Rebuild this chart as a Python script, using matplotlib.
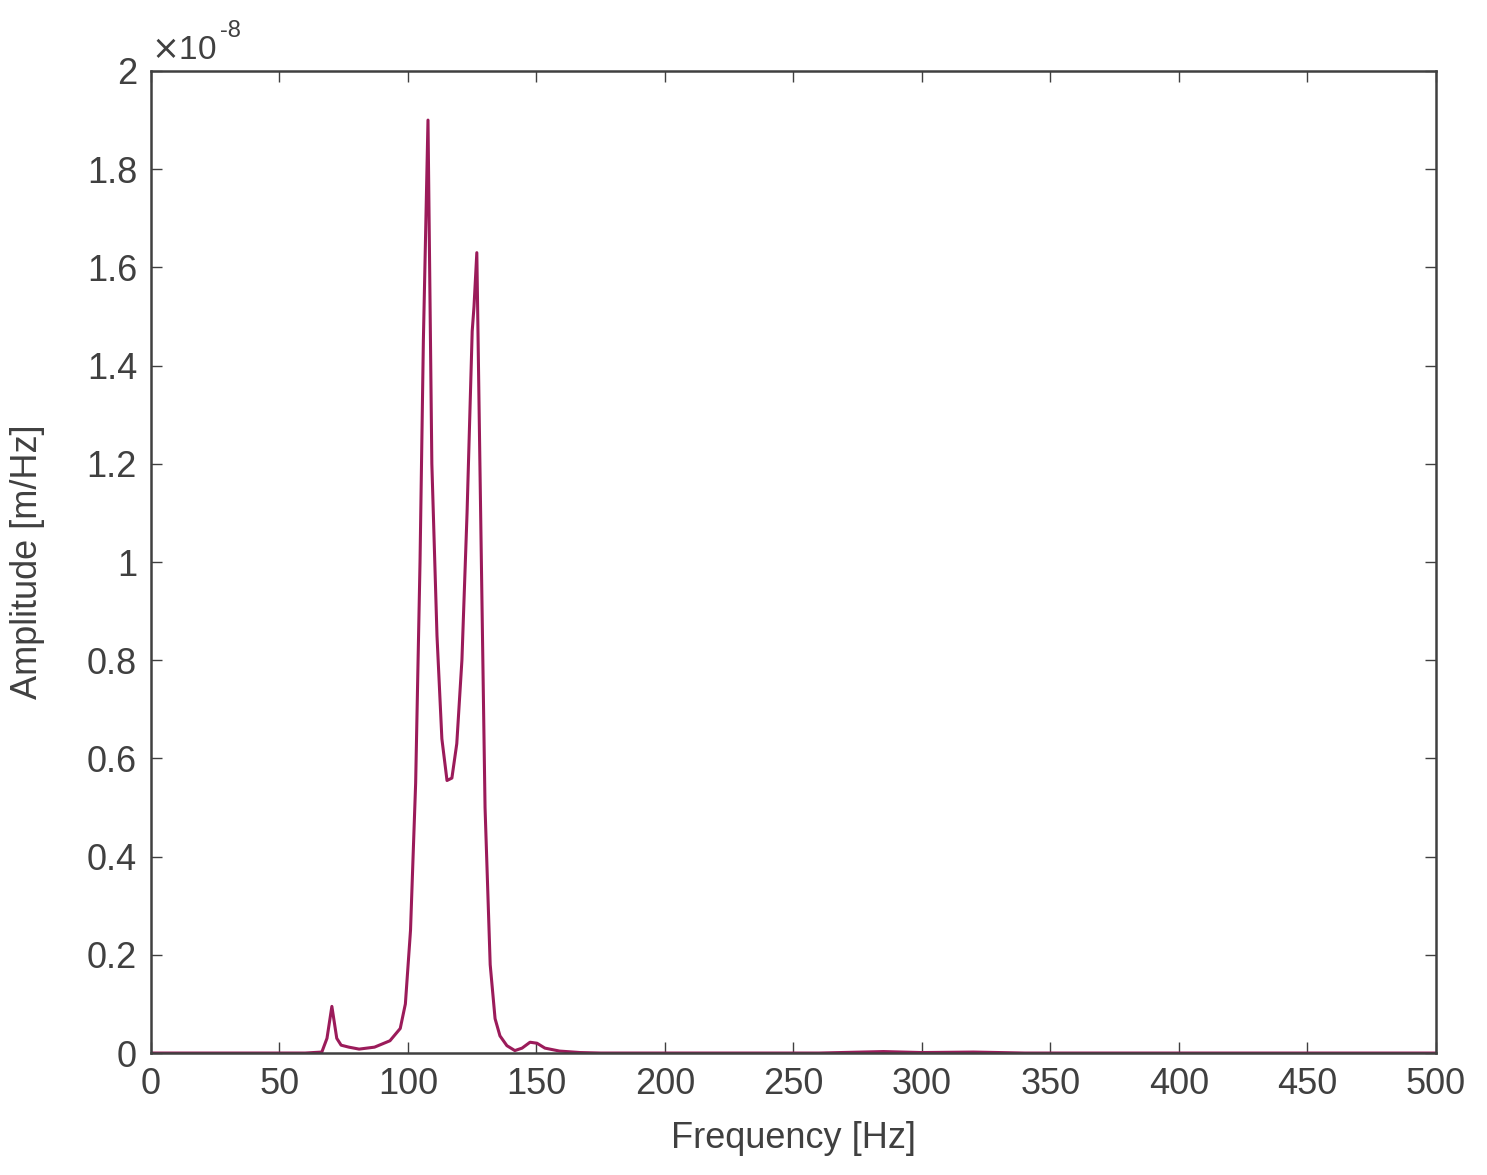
import matplotlib.pyplot as plt
import numpy as np

plt.rcParams["font.family"] = ["Liberation Sans", "DejaVu Sans"]

# values, amplitude in units of 1e-8 m/Hz
freq = [0, 60, 66.5, 68.5, 70.4, 72.3, 74, 77, 81, 87, 93, 97, 99, 101, 103, 104.7,
        106, 107.8, 109.3, 111.3, 113.2, 115.2, 117.1, 119, 121, 123, 125, 125.7,
        126.8, 128, 130, 132, 133.9, 135.8, 138.5, 141.6, 144.4, 147.5, 150.2,
        153.3, 159, 167, 175, 260, 285, 300, 320, 340, 500]
amp = [0, 0, 0.002, 0.03, 0.095, 0.03, 0.016, 0.012, 0.008, 0.012, 0.025, 0.05,
       0.1, 0.25, 0.55, 1.0, 1.45, 1.9, 1.2, 0.85, 0.64, 0.555, 0.56, 0.63, 0.8,
       1.1, 1.47, 1.52, 1.63, 1.2, 0.5, 0.18, 0.07, 0.035, 0.015, 0.005, 0.01,
       0.022, 0.02, 0.01, 0.004, 0.001, 0, 0, 0.003, 0.001, 0.002, 0, 0]

grey = "#404040"
fig = plt.figure(figsize=(14.87, 11.75), dpi=100)
ax = fig.add_axes([0.1015, 0.1038, 0.8642, 0.8358])
ax.plot(freq, amp, color="#9b1b5a", linewidth=2.2)
ax.set_xlim(0, 500)
ax.set_ylim(0, 2)
ax.set_xticks(np.arange(0, 501, 50))
ax.set_yticks([0, 0.2, 0.4, 0.6, 0.8, 1, 1.2, 1.4, 1.6, 1.8, 2])
ax.set_yticklabels(["0", "0.2", "0.4", "0.6", "0.8", "1", "1.2", "1.4", "1.6", "1.8", "2"])
ax.tick_params(direction="in", top=True, right=True, length=8, width=1,
               labelsize=26, colors=grey, pad=10)
for s in ax.spines.values():
    s.set_color(grey)
    s.set_linewidth(1.8)
ax.set_xlabel("Frequency [Hz]", fontsize=26, color=grey, labelpad=14)
ax.set_ylabel("Amplitude [m/Hz]", fontsize=26, color=grey, labelpad=30)
ax.text(0.0, 1.005, r"$\times$10", transform=ax.transAxes, fontsize=24,
        color=grey, va="bottom", ha="left")
ax.text(0.054, 1.03, "-8", transform=ax.transAxes, fontsize=17,
        color=grey, va="bottom", ha="left")

fig.savefig("out.png")
